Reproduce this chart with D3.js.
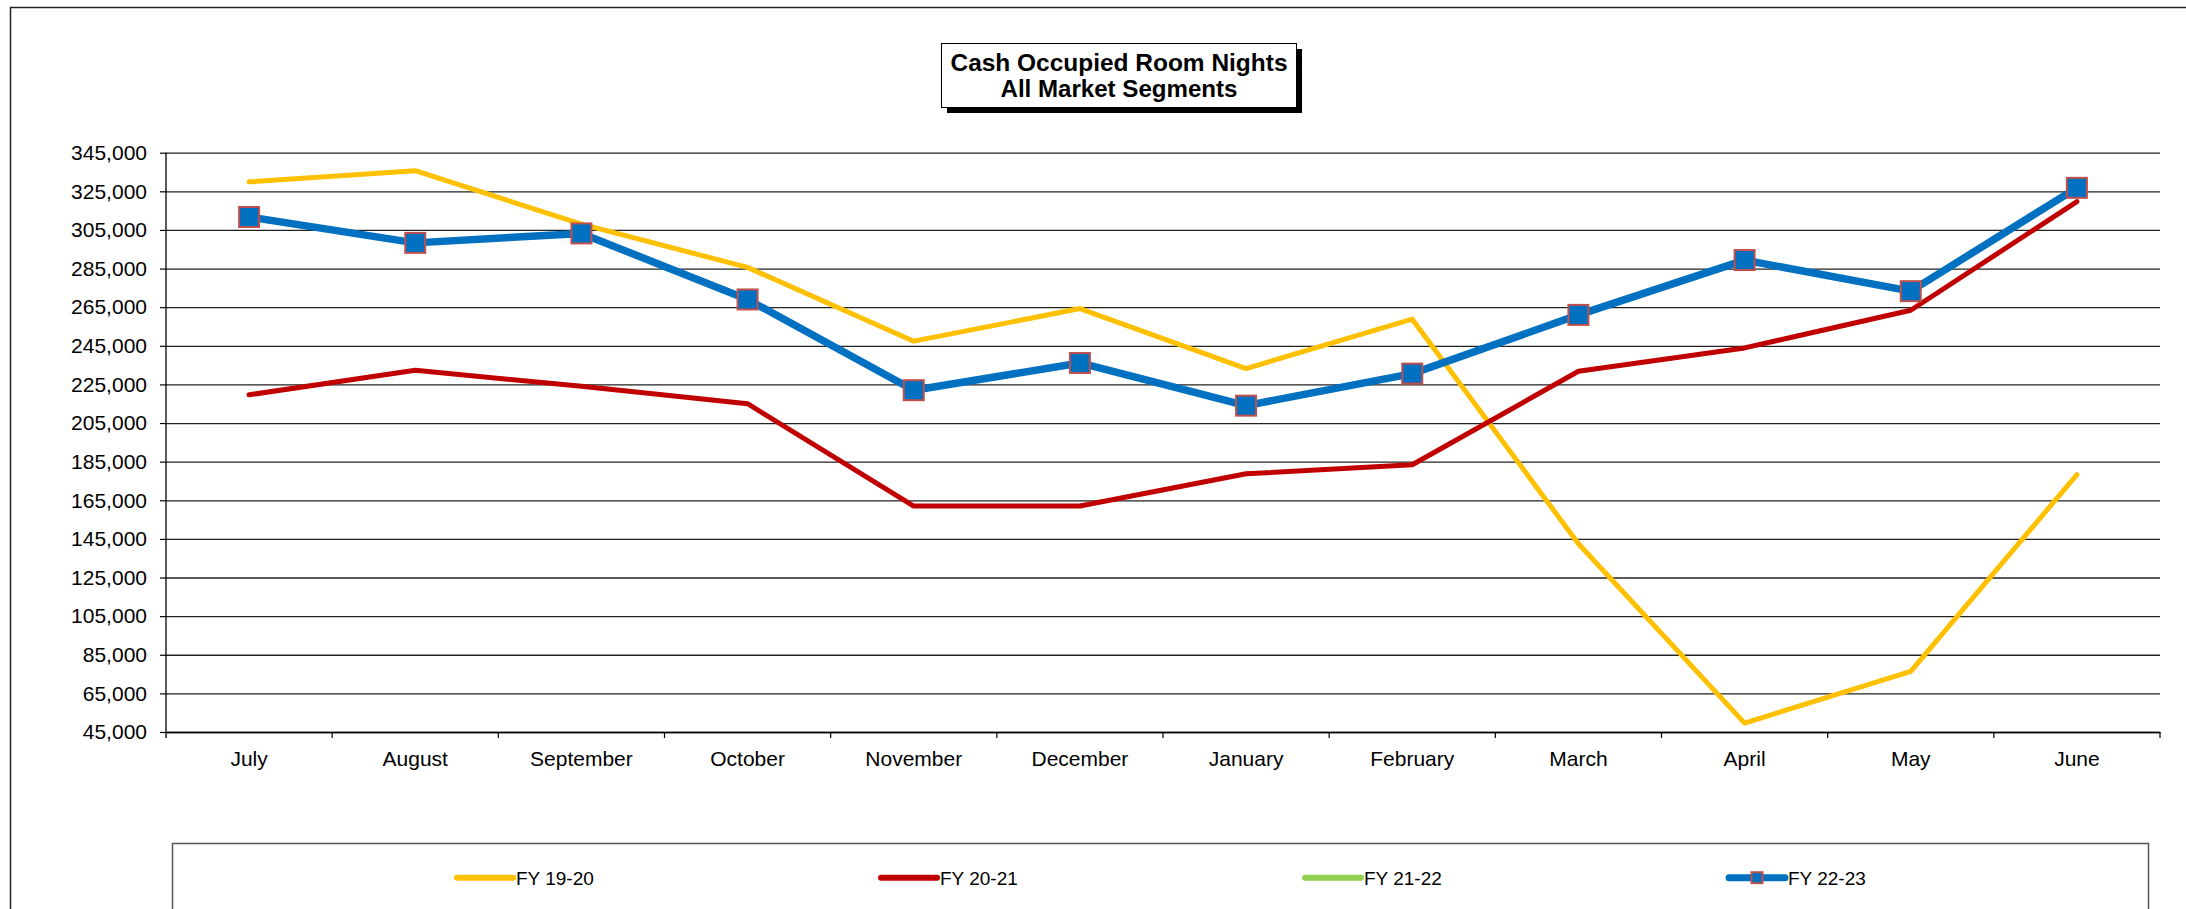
<!DOCTYPE html>
<html>
<head>
<meta charset="utf-8">
<script src="https://cdn.jsdelivr.net/npm/d3@7"></script>
<style>
    body { margin: 0; background: #fff; }
    svg { display: block; font-family: "Liberation Sans", Arial, sans-serif; }
</style>
</head>
<body>
<div id="chart"></div>
<script>
//Data
const months = ['July', 'August', 'September', 'October', 'November', 'December', 'January', 'February', 'March', 'April', 'May', 'June'];
const fy1920 = [329900, 335700, 308000, 285600, 247400, 264300, 233200, 258800, 142500, 49600, 76400, 178300];
const fy2021 = [219600, 232300, 224000, 215000, 162000, 162000, 178700, 183400, 231800, 243900, 263400, 319700];
const fy2122 = [];
const fy2223 = [311700, 298300, 303200, 269000, 222000, 236100, 214000, 230600, 261000, 289400, 273300, 326800];
const yTicks = [45000, 65000, 85000, 105000, 125000, 145000, 165000, 185000, 205000, 225000, 245000, 265000, 285000, 305000, 325000, 345000];
const seriesNames = ['FY 19-20', 'FY 20-21', 'FY 21-22', 'FY 22-23'];

//Colours
const COLOR_YELLOW = '#FFC000',
    COLOR_RED = '#C00000',
    COLOR_GREEN = '#92D050',
    COLOR_BLUE = '#0070C0',
    COLOR_MARKER_BORDER = '#C0504D';

let series = [
    { name: seriesNames[0], values: fy1920, color: COLOR_YELLOW, width: 5, marker: false },
    { name: seriesNames[1], values: fy2021, color: COLOR_RED, width: 5, marker: false },
    { name: seriesNames[2], values: fy2122, color: COLOR_GREEN, width: 5, marker: false },
    { name: seriesNames[3], values: fy2223, color: COLOR_BLUE, width: 7.5, marker: true }
];

let W = 2186, H = 909;
let margin = {top: 152.7, right: 26, bottom: 177, left: 166};

let svg = d3.select('#chart')
    .append('svg')
        .attr('width', W)
        .attr('height', H);

svg.append('rect').attr('width', W).attr('height', H).attr('fill', '#fff');

//Outer frame
svg.append('rect')
    .attr('x', 10.5).attr('y', 7.5)
    .attr('width', W + 20).attr('height', H + 20)
    .attr('fill', 'none')
    .attr('stroke', '#222')
    .attr('stroke-width', 1.5);

//Title box with shadow
let title = svg.append('g');
title.append('rect')
    .attr('x', 947).attr('y', 49).attr('width', 355).attr('height', 64)
    .attr('fill', '#000');
title.append('rect')
    .attr('x', 941.5).attr('y', 43.5).attr('width', 355).attr('height', 64)
    .attr('fill', '#fff').attr('stroke', '#000').attr('stroke-width', 1);
title.append('text')
    .attr('x', 1119).attr('y', 71)
    .attr('text-anchor', 'middle')
    .attr('textLength', 337).attr('lengthAdjust', 'spacingAndGlyphs')
    .style('font-size', '23px').style('font-weight', '700')
    .text('Cash Occupied Room Nights');
title.append('text')
    .attr('x', 1119).attr('y', 97)
    .attr('text-anchor', 'middle')
    .attr('textLength', 237).attr('lengthAdjust', 'spacingAndGlyphs')
    .style('font-size', '23px').style('font-weight', '700')
    .text('All Market Segments');

//Scales
let x = d3.scaleBand()
    .domain(months)
    .range([margin.left, W - margin.right])
    .padding(0);

let y = d3.scaleLinear()
    .domain([45000, 345000])
    .range([H - margin.bottom, margin.top]);

let cx = function(i) { return x(months[i]) + x.bandwidth() / 2; };

//Gridlines + y axis
let yAxis = function(g) {
    g.call(d3.axisLeft(y).tickValues(yTicks).tickSize(6).tickPadding(13).tickFormat(d3.format(',')));
    g.call(function(g) { g.select('.domain').remove(); });
    g.selectAll('.tick line').attr('stroke', '#000').attr('stroke-width', 1.2);
    g.selectAll('.tick text').style('font-size', '21px').attr('fill', '#000');
    g.selectAll('.tick').append('line')
        .attr('class', 'grid')
        .attr('x1', 0).attr('x2', W - margin.right - margin.left)
        .attr('stroke', '#222').attr('stroke-width', 1.3);
};

svg.append('g')
    .attr('transform', 'translate(' + margin.left + ',0)')
    .call(yAxis);

//y axis line
svg.append('line')
    .attr('x1', margin.left).attr('x2', margin.left)
    .attr('y1', margin.top).attr('y2', H - margin.bottom + 6)
    .attr('stroke', '#000').attr('stroke-width', 1.3);

//x axis
let xAxis = function(g) {
    g.call(d3.axisBottom(x).tickSize(0).tickPadding(19));
    g.select('.domain').attr('stroke', '#000').attr('stroke-width', 1.3);
    g.selectAll('.tick text').style('font-size', '21px').attr('fill', '#000');
    //tick marks at category boundaries
    g.selectAll('.sep')
        .data(months)
        .enter()
        .append('line')
        .attr('x1', function(d) { return x(d) + x.bandwidth(); })
        .attr('x2', function(d) { return x(d) + x.bandwidth(); })
        .attr('y1', 0).attr('y2', 6)
        .attr('stroke', '#000').attr('stroke-width', 1.2);
};

svg.append('g')
    .attr('transform', 'translate(0,' + (H - margin.bottom) + ')')
    .call(xAxis);

//Lines
let line = d3.line()
    .x(function(d, i) { return cx(i); })
    .y(function(d) { return y(d); });

series.forEach(function(s) {
    if (!s.values.length) return;
    svg.append('path')
        .datum(s.values)
        .attr('fill', 'none')
        .attr('stroke', s.color)
        .attr('stroke-width', s.width)
        .attr('stroke-linejoin', 'round')
        .attr('stroke-linecap', 'round')
        .attr('d', line);
    if (s.marker) {
        svg.append('g')
            .selectAll('rect')
            .data(s.values)
            .enter()
            .append('rect')
            .attr('x', function(d, i) { return cx(i) - 10; })
            .attr('y', function(d) { return y(d) - 10; })
            .attr('width', 20).attr('height', 20)
            .attr('fill', s.color)
            .attr('stroke', COLOR_MARKER_BORDER)
            .attr('stroke-width', 2);
    }
});

//Legend
let legend = svg.append('g');
legend.append('rect')
    .attr('x', 172.5).attr('y', 843.5)
    .attr('width', 1976).attr('height', 100)
    .attr('fill', '#fff').attr('stroke', '#555').attr('stroke-width', 1.5);

let legendY = 877.7;
let legendX = d3.scalePoint().domain(seriesNames).range([457, 1729]);

let items = legend.selectAll('.item')
    .data(series)
    .enter()
    .append('g')
    .attr('class', 'item')
    .attr('transform', function(d) { return 'translate(' + legendX(d.name) + ',' + legendY + ')'; });

items.append('line')
    .attr('x1', 0).attr('x2', 56)
    .attr('stroke', function(d) { return d.color; })
    .attr('stroke-width', function(d) { return d.marker ? 7 : 6; })
    .attr('stroke-linecap', 'round');

items.filter(function(d) { return d.marker; })
    .append('rect')
    .attr('x', 22.5).attr('y', -5.5).attr('width', 11).attr('height', 11)
    .attr('fill', COLOR_BLUE)
    .attr('stroke', COLOR_MARKER_BORDER).attr('stroke-width', 2);

items.append('text')
    .attr('x', 59).attr('y', 7)
    .style('font-size', '19px')
    .attr('fill', '#000')
    .text(function(d) { return d.name; });
</script>
</body>
</html>
